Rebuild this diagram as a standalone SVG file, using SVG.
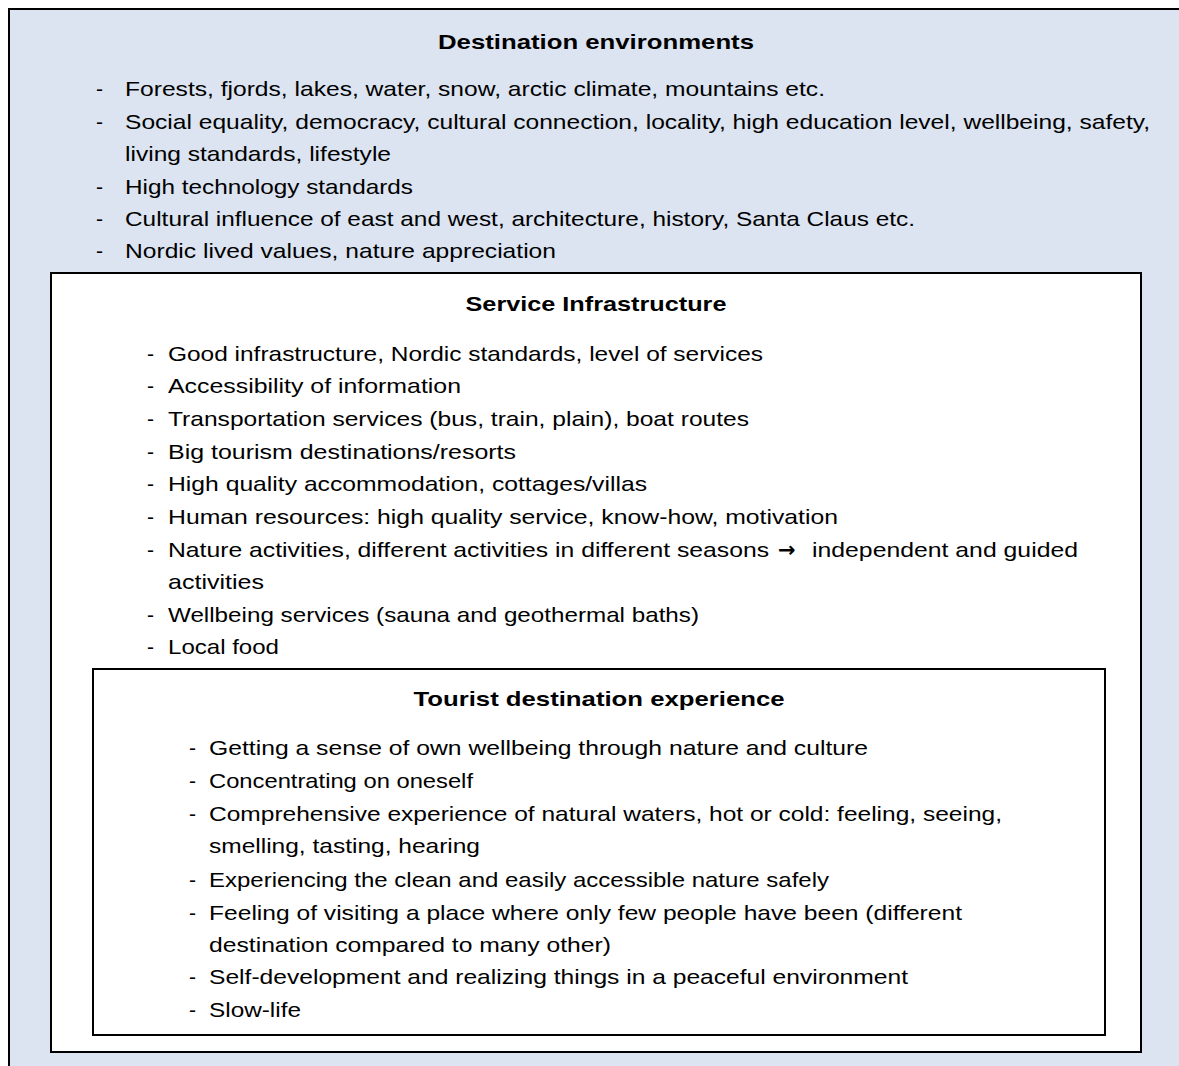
<svg xmlns="http://www.w3.org/2000/svg" width="1179" height="1066" viewBox="0 0 1179 1066">
<style>
text{font-family:"Liberation Sans",Arial,sans-serif;font-size:21px;fill:#000}
.t{font-weight:bold;text-anchor:middle}
.box{stroke:#000;stroke-width:2}
.ar{font-family:"DejaVu Sans",sans-serif;font-weight:bold}
</style>
<rect width="1179" height="1066" fill="#fff"/>
<g id="destination-environments">
<rect class="box" x="9" y="9" width="1180" height="1070" fill="#dbe4f0"/>
<text class="t" x="596" y="49" textLength="316" lengthAdjust="spacingAndGlyphs">Destination environments</text>
<text x="96" y="96">-</text><text x="125" y="96" textLength="700" lengthAdjust="spacingAndGlyphs">Forests, fjords, lakes, water, snow, arctic climate, mountains etc.</text>
<text x="96" y="129">-</text><text x="125" y="129" textLength="1025" lengthAdjust="spacingAndGlyphs">Social equality, democracy, cultural connection, locality, high education level, wellbeing, safety,</text>
<text x="125" y="161" textLength="266" lengthAdjust="spacingAndGlyphs">living standards, lifestyle</text>
<text x="96" y="194">-</text><text x="125" y="194" textLength="288" lengthAdjust="spacingAndGlyphs">High technology standards</text>
<text x="96" y="226">-</text><text x="125" y="226" textLength="790" lengthAdjust="spacingAndGlyphs">Cultural influence of east and west, architecture, history, Santa Claus etc.</text>
<text x="96" y="258">-</text><text x="125" y="258" textLength="431" lengthAdjust="spacingAndGlyphs">Nordic lived values, nature appreciation</text>
</g>
<g id="service-infrastructure">
<rect class="box" x="51" y="273" width="1090" height="779" fill="#fff"/>
<text class="t" x="596" y="311" textLength="261" lengthAdjust="spacingAndGlyphs">Service Infrastructure</text>
<text x="147" y="361">-</text><text x="168" y="361" textLength="595" lengthAdjust="spacingAndGlyphs">Good infrastructure, Nordic standards, level of services</text>
<text x="147" y="393">-</text><text x="168" y="393" textLength="293" lengthAdjust="spacingAndGlyphs">Accessibility of information</text>
<text x="147" y="426">-</text><text x="168" y="426" textLength="581" lengthAdjust="spacingAndGlyphs">Transportation services (bus, train, plain), boat routes</text>
<text x="147" y="459">-</text><text x="168" y="459" textLength="348" lengthAdjust="spacingAndGlyphs">Big tourism destinations/resorts</text>
<text x="147" y="491">-</text><text x="168" y="491" textLength="479" lengthAdjust="spacingAndGlyphs">High quality accommodation, cottages/villas</text>
<text x="147" y="524">-</text><text x="168" y="524" textLength="670" lengthAdjust="spacingAndGlyphs">Human resources: high quality service, know-how, motivation</text>
<text x="147" y="557">-</text><text x="168" y="557" textLength="601" lengthAdjust="spacingAndGlyphs">Nature activities, different activities in different seasons</text><text class="ar" x="778" y="557">→</text><text x="812" y="557" textLength="266" lengthAdjust="spacingAndGlyphs">independent and guided</text>
<text x="168" y="589" textLength="96" lengthAdjust="spacingAndGlyphs">activities</text>
<text x="147" y="622">-</text><text x="168" y="622" textLength="531" lengthAdjust="spacingAndGlyphs">Wellbeing services (sauna and geothermal baths)</text>
<text x="147" y="654">-</text><text x="168" y="654" textLength="111" lengthAdjust="spacingAndGlyphs">Local food</text>
</g>
<g id="tourist-destination-experience">
<rect class="box" x="93" y="669" width="1012" height="366" fill="#fff"/>
<text class="t" x="599" y="706" textLength="371" lengthAdjust="spacingAndGlyphs">Tourist destination experience</text>
<text x="189" y="755">-</text><text x="209" y="755" textLength="659" lengthAdjust="spacingAndGlyphs">Getting a sense of own wellbeing through nature and culture</text>
<text x="189" y="788">-</text><text x="209" y="788" textLength="264" lengthAdjust="spacingAndGlyphs">Concentrating on oneself</text>
<text x="189" y="821">-</text><text x="209" y="821" textLength="793" lengthAdjust="spacingAndGlyphs">Comprehensive experience of natural waters, hot or cold: feeling, seeing,</text>
<text x="209" y="853" textLength="271" lengthAdjust="spacingAndGlyphs">smelling, tasting, hearing</text>
<text x="189" y="887">-</text><text x="209" y="887" textLength="620" lengthAdjust="spacingAndGlyphs">Experiencing the clean and easily accessible nature safely</text>
<text x="189" y="920">-</text><text x="209" y="920" textLength="753" lengthAdjust="spacingAndGlyphs">Feeling of visiting a place where only few people have been (different</text>
<text x="209" y="952" textLength="402" lengthAdjust="spacingAndGlyphs">destination compared to many other)</text>
<text x="189" y="984">-</text><text x="209" y="984" textLength="699" lengthAdjust="spacingAndGlyphs">Self-development and realizing things in a peaceful environment</text>
<text x="189" y="1017">-</text><text x="209" y="1017" textLength="92" lengthAdjust="spacingAndGlyphs">Slow-life</text>
</g>
<g id="connectors"/>
</svg>
